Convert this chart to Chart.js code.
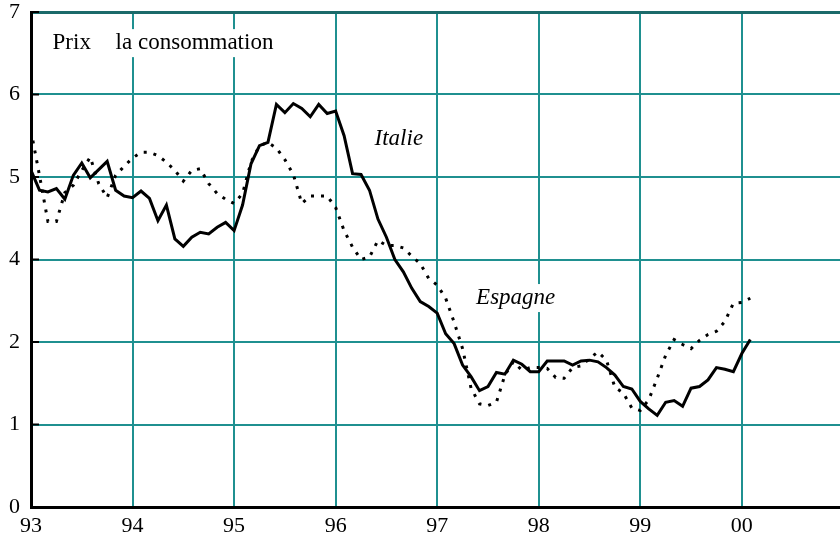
<!DOCTYPE html>
<html>
<head>
<meta charset="utf-8">
<script src="https://cdn.jsdelivr.net/npm/chart.js@4.4.1/dist/chart.umd.min.js"></script>
<style>
  html, body { margin: 0; padding: 0; background: #fff; }
  #wrap { width: 840px; height: 538px; }
</style>
</head>
<body>
<div id="wrap"><canvas id="chart" width="840" height="538"></canvas></div>
<script>
// --- données (glissement annuel, en unités de grille) ---
// une valeur par mois, de janvier 93 à février 00
const xTickLabels = ['93', '94', '95', '96', '97', '98', '99', '00'];
const yTickLabels = ['0', '1', '2', '4', '5', '6', '7'];

const italie = [
  4.08, 3.84, 3.82, 3.86, 3.73, 4.02, 4.17, 3.99, 4.09, 4.19, 3.84, 3.77,
  3.75, 3.83, 3.74, 3.47, 3.66, 3.25, 3.16, 3.27, 3.33, 3.31, 3.39, 3.45,
  3.35, 3.66, 4.16, 4.38, 4.42, 4.88, 4.78, 4.89, 4.83, 4.73, 4.88, 4.77,
  4.80, 4.50, 4.04, 4.03, 3.84, 3.49, 3.27, 3.00, 2.85, 2.65, 2.49, 2.43,
  2.35, 2.10, 1.98, 1.72, 1.58, 1.41, 1.46, 1.63, 1.61, 1.78, 1.73, 1.64,
  1.64, 1.77, 1.77, 1.77, 1.72, 1.77, 1.78, 1.76, 1.69, 1.60, 1.46, 1.43,
  1.28, 1.19, 1.11, 1.27, 1.29, 1.22, 1.44, 1.46, 1.54, 1.69, 1.67, 1.64,
  1.86, 2.03
];

const espagne = [
  4.56, 4.02, 3.46, 3.46, 3.81, 3.90, 4.08, 4.24, 3.92, 3.75, 4.02, 4.13,
  4.23, 4.30, 4.30, 4.26, 4.18, 4.08, 3.95, 4.08, 4.10, 3.92, 3.80, 3.73,
  3.68, 3.80, 4.18, 4.38, 4.42, 4.35, 4.21, 4.03, 3.68, 3.77, 3.77, 3.77,
  3.63, 3.35, 3.15, 3.00, 3.03, 3.23, 3.17, 3.17, 3.14, 3.04, 2.95, 2.77,
  2.69, 2.53, 2.24, 1.92, 1.44, 1.25, 1.23, 1.27, 1.60, 1.76, 1.66, 1.69,
  1.69, 1.68, 1.57, 1.56, 1.69, 1.71, 1.80, 1.88, 1.78, 1.45, 1.38, 1.20,
  1.17, 1.30, 1.56, 1.84, 2.03, 1.97, 1.92, 2.02, 2.09, 2.13, 2.25, 2.47,
  2.48, 2.53
];

const TEAL = '#1f9090';
const TEAL_DARK = '#1b6a6a';
const FONT = '"Liberation Serif", "Times New Roman", serif';

// textes posés sur le graphique (coordonnées en mois / unités de grille)
const annotations = [
  { text: 'Prix', x: 2.55, y: 5.55, italic: false },
  { text: 'la consommation', x: 10.0, y: 5.55, italic: false },
  { text: 'Italie', x: 40.6, y: 4.39, italic: true },
  { text: 'Espagne', x: 52.6, y: 2.46, italic: true }
];

const toPoints = arr => arr.map((v, i) => ({ x: i, y: v }));

// textes avec fond blanc + petites graduations noires sur l'axe vertical
const decorPlugin = {
  id: 'decor',
  afterDatasetsDraw(chart) {
    const { ctx, scales: { x, y }, chartArea } = chart;
    ctx.save();
    // graduations
    ctx.strokeStyle = '#000';
    ctx.lineWidth = 2;
    for (let v = 1; v <= 6; v++) {
      const py = y.getPixelForValue(v);
      ctx.beginPath();
      ctx.moveTo(chartArea.left, py);
      ctx.lineTo(chartArea.left + 8, py);
      ctx.stroke();
    }
    // textes
    ctx.textBaseline = 'alphabetic';
    annotations.forEach(a => {
      ctx.font = (a.italic ? 'italic ' : '') + '23px ' + FONT;
      const px = x.getPixelForValue(a.x);
      const py = y.getPixelForValue(a.y);
      const w = ctx.measureText(a.text).width;
      ctx.fillStyle = '#fff';
      ctx.fillRect(px - 3, py - 20, w + 6, 28);
      ctx.fillStyle = '#000';
      ctx.fillText(a.text, px, py);
    });
    ctx.restore();
  }
};

const ctx = document.getElementById('chart').getContext('2d');

new Chart(ctx, {
  type: 'line',
  data: {
    datasets: [
      {
        label: 'Espagne',
        data: toPoints(espagne),
        borderColor: '#000',
        borderWidth: 3,
        borderDash: [3, 7],
        borderCapStyle: 'butt',
        pointRadius: 0,
        tension: 0,
        fill: false
      },
      {
        label: 'Italie',
        data: toPoints(italie),
        borderColor: '#000',
        borderWidth: 3,
        borderJoinStyle: 'miter',
        pointRadius: 0,
        tension: 0,
        fill: false
      }
    ]
  },
  options: {
    responsive: false,
    animation: false,
    layout: { padding: { top: 12, left: 0, right: 0, bottom: 0 } },
    plugins: {
      legend: { display: false },
      tooltip: { enabled: false }
    },
    scales: {
      x: {
        type: 'linear',
        min: 0,
        max: 95.6,
        afterBuildTicks: scale => {
          scale.ticks = xTickLabels.map((_, i) => ({ value: i * 12 }));
        },
        afterFit: scale => {
          scale.height = 31;
          scale.paddingLeft = 0;
          scale.paddingRight = 0;
        },
        grid: {
          color: ctx => ctx.index === 0 ? 'rgba(0,0,0,0)' : TEAL,
          lineWidth: 2,
          drawTicks: false
        },
        border: { color: '#000', width: 3 },
        ticks: {
          padding: 6,
          maxRotation: 0,
          autoSkip: false,
          color: '#000',
          font: { family: FONT, size: 22 },
          callback: (v, i) => xTickLabels[i]
        }
      },
      y: {
        min: 0,
        max: 6,
        afterFit: scale => {
          scale.width = 31;
          scale.paddingTop = 0;
          scale.paddingBottom = 0;
        },
        grid: {
          color: ctx => ctx.tick && ctx.tick.value === 6 ? TEAL_DARK : TEAL,
          lineWidth: ctx => ctx.tick && ctx.tick.value === 6 ? 3 : 2,
          drawTicks: false
        },
        border: { color: '#000', width: 3 },
        ticks: {
          stepSize: 1,
          padding: 11,
          color: '#000',
          font: { family: FONT, size: 22 },
          callback: (v, i) => yTickLabels[i]
        }
      }
    }
  },
  plugins: [decorPlugin]
});
</script>
</body>
</html>
